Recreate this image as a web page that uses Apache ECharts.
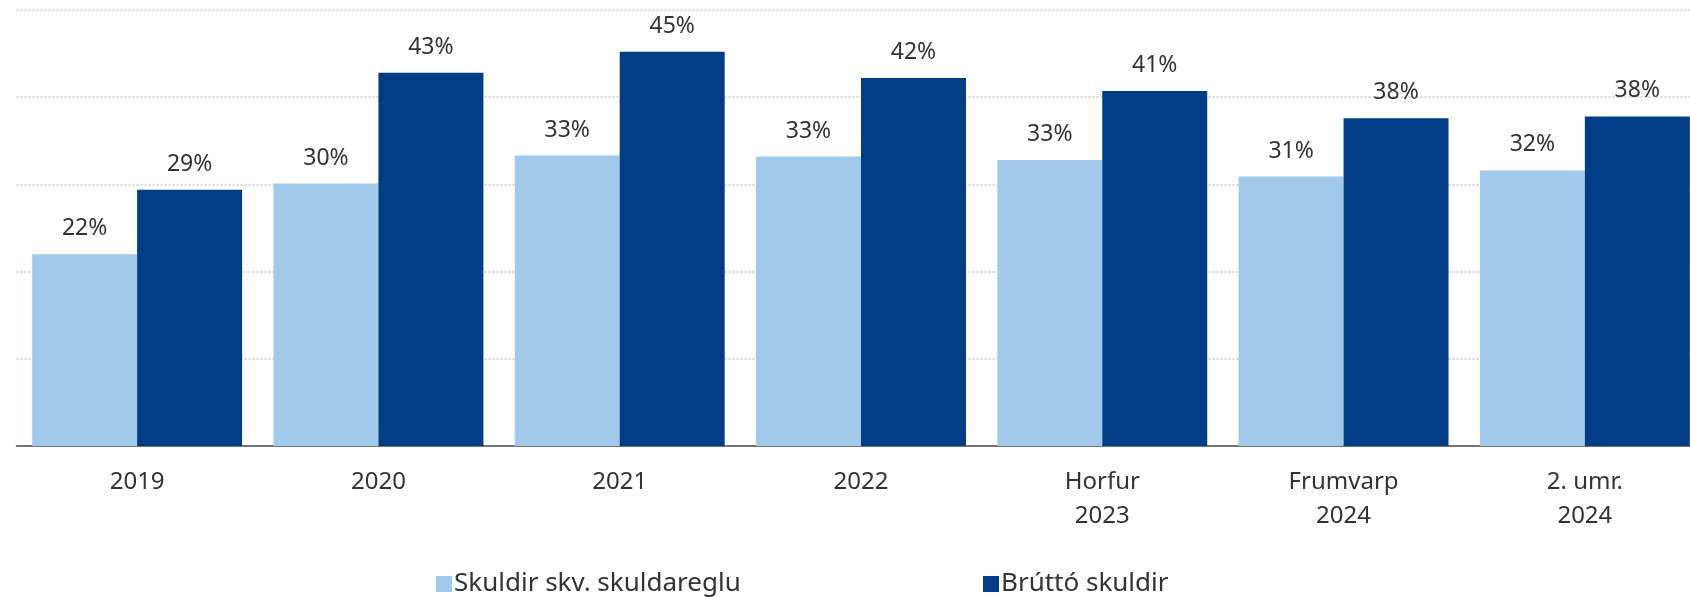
<!DOCTYPE html>
<html>
<head>
<meta charset="utf-8">
<script src="https://cdn.jsdelivr.net/npm/echarts@6/dist/echarts.min.js"></script>
<style>
  html, body { margin: 0; padding: 0; background: #fff; }
  #chart { width: 1690px; height: 597px; }
</style>
</head>
<body>
<div id="chart"></div>
<script>
// flokkar og gildi (lesin af myndinni)
var categories = ['2019', '2020', '2021', '2022', 'Horfur\n2023', 'Frumvarp\n2024', '2. umr.\n2024'];
var skuldaregla = [22.0, 30.1, 33.3, 33.2, 32.8, 30.9, 31.6];
var bruttoSkuldir = [29.4, 42.8, 45.2, 42.2, 40.7, 37.6, 37.8];
var seriesNames = ['Skuldir skv. skuldareglu', 'Brúttó skuldir'];

var lightBlue = '#a1c9ea';
var darkBlue = '#013d86';
var font = '"Noto Sans", sans-serif';

var myChart = echarts.init(document.getElementById('chart'));

function pct(p) {
  return Math.round(p.value) + '%';
}

var labelStyle = {
  show: true,
  position: 'top',
  distance: 14,
  fontFamily: font,
  fontSize: 23,
  color: '#333',
  formatter: pct
};

function legendItem(name, left) {
  return {
    data: [name],
    left: left,
    top: 571,
    padding: 0,
    itemWidth: 16,
    itemHeight: 16,
    icon: 'rect',
    itemGap: 0,
    textStyle: { fontFamily: font, fontSize: 26, color: '#333', padding: [0, 0, 0, -3] }
  };
}

var option = {
  animation: false,
  backgroundColor: '#fff',
  grid: {
    left: 16.5,
    top: 10,
    width: 1689,
    height: 436,
    outerBoundsMode: 'none'
  },
  legend: [
    legendItem(seriesNames[0], 436),
    legendItem(seriesNames[1], 983)
  ],
  xAxis: {
    type: 'category',
    data: categories,
    axisLine: { lineStyle: { color: '#4d4d4d', width: 1.5 } },
    axisTick: { show: false },
    axisLabel: {
      fontFamily: font,
      fontSize: 24,
      color: '#333',
      lineHeight: 34,
      margin: 19
    }
  },
  yAxis: {
    type: 'value',
    min: 0,
    max: 50,
    interval: 10,
    axisLabel: { show: false },
    axisLine: { show: false },
    axisTick: { show: false },
    splitLine: {
      lineStyle: { type: 'dotted', color: '#d6d6d6', width: 2 }
    }
  },
  series: [
    {
      name: seriesNames[0],
      type: 'bar',
      data: skuldaregla,
      barGap: '0%',
      barCategoryGap: '13%',
      itemStyle: { color: lightBlue },
      label: labelStyle
    },
    {
      name: seriesNames[1],
      type: 'bar',
      data: bruttoSkuldir,
      barGap: '0%',
      barCategoryGap: '13%',
      itemStyle: { color: darkBlue },
      label: labelStyle
    }
  ]
};

myChart.setOption(option);
</script>
</body>
</html>
